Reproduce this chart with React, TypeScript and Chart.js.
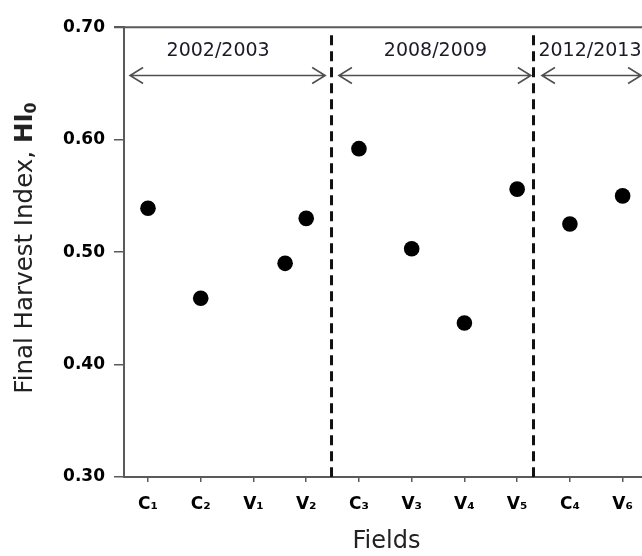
import React, { useEffect, useRef } from "react";
import { Chart, registerables } from "chart.js";

Chart.register(...registerables);

// ---- data ----
const fieldLabels = ["C₁", "C₂", "V₁", "V₂", "C₃", "V₃", "V₄", "V₅", "C₄", "V₆"];
const fieldPositions = [1, 2, 3.6, 4, 5, 6, 7, 8, 9, 10];
const harvestIndex = [0.539, 0.459, 0.49, 0.53, 0.592, 0.503, 0.437, 0.556, 0.525, 0.55];
const yTicks = [0.3, 0.4, 0.5, 0.6, 0.7];
const seasonNames = ["2002/2003", "2008/2009", "2012/2013"];
const seasonStarts = [0.66, 4.62, 8.47];
const seasonEnds = [4.36, 8.26, 10.35];
const seasonLabelX = [2.33, 6.45, 9.38];
const seasonDividers = [4.48, 8.31];
const arrowLevel = 0.657;
const labelLevel = 0.679;

const AXIS = "#5a5a5a";

const annotationPlugin = {
  id: "seasonAnnotations",
  afterDatasetsDraw(chart: any) {
    const { ctx, chartArea } = chart;
    const x = chart.scales.x;
    const y = chart.scales.y;
    ctx.save();
    // top frame line
    ctx.strokeStyle = AXIS;
    ctx.lineWidth = 2;
    ctx.beginPath();
    ctx.moveTo(chartArea.left - 10, chartArea.top);
    ctx.lineTo(chart.width, chartArea.top);
    ctx.stroke();

    // dashed season dividers
    ctx.strokeStyle = "#111";
    ctx.lineWidth = 3;
    ctx.setLineDash([10, 6]);
    seasonDividers.forEach((v) => {
      const px = x.getPixelForValue(v);
      ctx.beginPath();
      ctx.moveTo(px, chartArea.top + 8);
      ctx.lineTo(px, chartArea.bottom);
      ctx.stroke();
    });
    ctx.setLineDash([]);

    // double arrows
    const ay = y.getPixelForValue(arrowLevel);
    ctx.strokeStyle = "#505050";
    ctx.lineWidth = 1.6;
    seasonStarts.forEach((s, i) => {
      const x0 = x.getPixelForValue(s);
      const x1 = x.getPixelForValue(seasonEnds[i]);
      ctx.beginPath();
      ctx.moveTo(x0, ay);
      ctx.lineTo(x1, ay);
      ctx.moveTo(x0 + 13, ay - 8);
      ctx.lineTo(x0, ay);
      ctx.lineTo(x0 + 13, ay + 8);
      ctx.moveTo(x1 - 13, ay - 8);
      ctx.lineTo(x1, ay);
      ctx.lineTo(x1 - 13, ay + 8);
      ctx.stroke();
    });

    // season labels
    ctx.fillStyle = "#1b1b28";
    ctx.font = '19px "DejaVu Sans"';
    ctx.textAlign = "center";
    ctx.textBaseline = "middle";
    const ly = y.getPixelForValue(labelLevel);
    seasonNames.forEach((n, i) => {
      ctx.fillText(n, x.getPixelForValue(seasonLabelX[i]), ly);
    });

    // y-axis title with bold HI and subscript 0
    const parts = [
      { t: "Final Harvest Index, ", f: '24.5px "DejaVu Sans"', dy: 0 },
      { t: "HI", f: 'bold 24.5px "DejaVu Sans"', dy: 0 },
      { t: "0", f: 'bold 16px "DejaVu Sans"', dy: 4 },
    ];
    let total = 0;
    const widths = parts.map((p) => {
      ctx.font = p.f;
      const w = ctx.measureText(p.t).width;
      total += w;
      return w;
    });
    ctx.translate(24, 240);
    ctx.rotate(-Math.PI / 2);
    ctx.fillStyle = "#222";
    ctx.textAlign = "left";
    ctx.textBaseline = "alphabetic";
    let cx = -total / 2;
    parts.forEach((p, i) => {
      ctx.font = p.f;
      ctx.fillText(p.t, cx, p.dy);
      cx += widths[i];
    });
    ctx.restore();
  },
};

export default function App() {
  const ref = useRef<HTMLCanvasElement>(null);

  useEffect(() => {
    document.documentElement.style.overflow = "hidden";
    document.body.style.margin = "0";
    const canvas = ref.current;
    if (!canvas) return;
    const chart = new Chart(canvas, {
      type: "scatter",
      data: {
        datasets: [
          {
            data: fieldPositions.map((p, i) => ({ x: p, y: harvestIndex[i] })),
            backgroundColor: "#000",
            borderColor: "#000",
            pointRadius: 7.8,
            pointHoverRadius: 7.8,
            borderWidth: 0,
          },
        ],
      },
      options: {
        responsive: false,
        animation: false,
        layout: { padding: { left: 0, top: 16, right: 19, bottom: 0 } },
        plugins: {
          legend: { display: false },
          tooltip: { enabled: false },
          title: { display: false },
        },
        scales: {
          x: {
            type: "linear",
            min: 0.545,
            max: 10.5,
            afterBuildTicks: (scale: any) => {
              scale.ticks = fieldLabels.map((_, i) => ({ value: i + 1 }));
            },
            afterFit: (scale: any) => {
              scale.height = 79;
            },
            grid: {
              display: true,
              drawOnChartArea: false,
              drawTicks: true,
              tickLength: 5,
              color: AXIS,
              lineWidth: 1.5,
            },
            border: { display: true, color: AXIS, width: 2 },
            ticks: {
              autoSkip: false,
              maxRotation: 0,
              padding: 12,
              color: "#000",
              font: { family: '"DejaVu Sans"', size: 17, weight: "bold" },
              callback: (v: any) => fieldLabels[Math.round(Number(v)) - 1] ?? "",
            },
            title: {
              display: true,
              text: "Fields",
              color: "#222",
              font: { family: '"DejaVu Sans"', size: 24 },
              padding: { top: 0, bottom: 0 },
            },
          },
          y: {
            type: "linear",
            min: 0.3,
            max: 0.7,
            afterBuildTicks: (scale: any) => {
              scale.ticks = yTicks.map((v) => ({ value: v }));
            },
            afterFit: (scale: any) => {
              scale.width = 116;
            },
            grid: {
              display: true,
              drawOnChartArea: false,
              drawTicks: true,
              tickLength: 10,
              color: AXIS,
              lineWidth: 1.5,
            },
            border: { display: true, color: AXIS, width: 2 },
            ticks: {
              padding: 9,
              color: "#000",
              font: { family: '"DejaVu Sans"', size: 17, weight: "bold" },
              callback: (v: any) => Number(v).toFixed(2),
            },
          },
        },
      },
      plugins: [annotationPlugin],
    });
    return () => chart.destroy();
  }, []);

  return (
    <div style={{ width: 642, height: 556, overflow: "hidden" }}>
      <canvas
        ref={ref}
        width={660}
        height={548}
        style={{ display: "block", marginLeft: 8, marginTop: 8 }}
      />
    </div>
  );
}
